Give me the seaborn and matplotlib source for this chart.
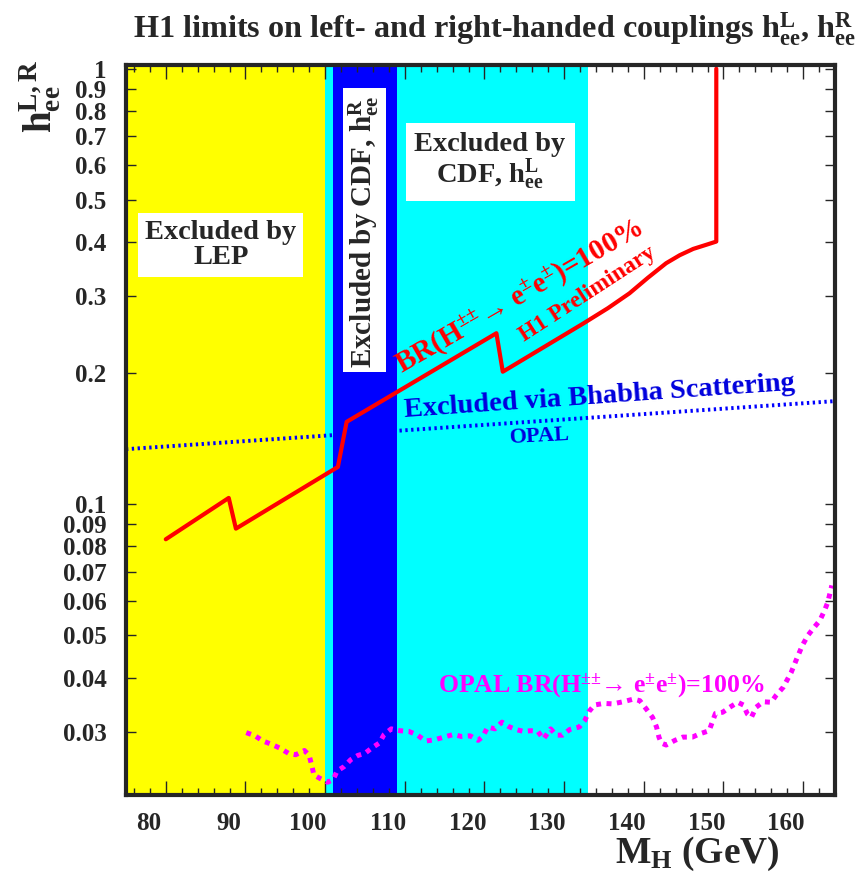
import matplotlib
matplotlib.use("Agg")
import matplotlib.pyplot as plt
import matplotlib.ticker as mticker
import matplotlib.transforms as mtransforms
from matplotlib.patches import Rectangle
import pandas as pd
import seaborn as sns

# excluded mass bands (GeV)
band_lo = [100.0, 101.0, 75.0]
band_hi = [133.0, 109.0, 100.0]
band_colors = ["#00ffff", "#0000ff", "#ffff00"]

# H1 limit, BR(H++ -> ee) = 100%
h1_mass = [80.0, 87.9, 88.8, 101.6, 102.7, 121.5, 122.3, 132.4, 135.5, 138.2, 140.5,
           142.8, 144.5, 146.2, 147.8, 149.1, 149.1]
h1_coupling = [0.0831, 0.1034, 0.0879, 0.1218, 0.1546, 0.247, 0.2015, 0.260, 0.282, 0.305, 0.331,
               0.3576, 0.373, 0.3857, 0.394, 0.401, 1.0]

# OPAL Bhabha scattering limit
bhabha_mass = [75.0, 164.0]
bhabha_coupling = [0.1338, 0.1725]

# OPAL limit, BR(H++ -> ee) = 100%
opal_mass = [90.1, 91.2, 92.2, 93.3, 94.4, 95.4, 96.3, 97.4, 98.0, 98.3, 98.6, 99.3, 100.3,
             101.0, 101.5, 102.4, 103.2, 104.1, 105.0, 105.9, 106.8, 107.4, 108.3, 109.4,
             110.5, 111.6, 112.6, 113.8, 114.9, 116.1, 117.1, 118.2, 119.2, 119.8, 120.4,
             121.3, 122.2, 123.0, 123.9, 124.9, 125.8, 126.7, 127.4, 128.3, 129.0, 129.8,
             130.7, 131.9, 132.6, 133.1, 133.8, 135.0, 136.1, 137.4, 138.7, 139.5, 140.3,
             141.1, 141.6, 141.9, 142.2, 142.8, 143.9, 144.9, 146.1, 147.0, 148.2, 148.7,
             149.0, 149.9, 150.8, 151.8, 152.5, 153.0, 153.5, 154.1, 155.0, 156.0, 156.6,
             157.5, 158.5, 159.2, 159.9, 160.6, 161.4, 162.1, 162.7, 163.1, 163.6]
opal_coupling = [0.0299, 0.0294, 0.0286, 0.0281, 0.0275, 0.0268, 0.0266, 0.0272, 0.0265, 0.0252,
                 0.0239, 0.0235, 0.0230, 0.0233, 0.0244, 0.0250, 0.0259, 0.0265, 0.0268, 0.0276,
                 0.0283, 0.0296, 0.0305, 0.0302, 0.0301, 0.0295, 0.0286, 0.0288, 0.0292, 0.0296,
                 0.0293, 0.0294, 0.0287, 0.0293, 0.0308, 0.0305, 0.0316, 0.0309, 0.0304, 0.0301,
                 0.0302, 0.0301, 0.0289, 0.0305, 0.0295, 0.0295, 0.0304, 0.0308, 0.0319, 0.0334,
                 0.0346, 0.0349, 0.0348, 0.0352, 0.0357, 0.0354, 0.0339, 0.0324, 0.0308, 0.0292,
                 0.0283, 0.0280, 0.0287, 0.0292, 0.0292, 0.0297, 0.0302, 0.0320, 0.0331, 0.0333,
                 0.0342, 0.0351, 0.0346, 0.0330, 0.0324, 0.0342, 0.0352, 0.0351, 0.0364, 0.0380,
                 0.0411, 0.0442, 0.0474, 0.0500, 0.0522, 0.0541, 0.0571, 0.0596, 0.0651]

y_ticks = [0.03, 0.04, 0.05, 0.06, 0.07, 0.08, 0.09, 0.1, 0.2, 0.3, 0.4, 0.5, 0.6, 0.7, 0.8, 0.9, 1.0]
y_tick_labels = ["0.03", "0.04", "0.05", "0.06", "0.07", "0.08", "0.09", "0.1",
                 "0.2", "0.3", "0.4", "0.5", "0.6", "0.7", "0.8", "0.9", "1"]
x_ticks = [80, 90, 100, 110, 120, 130, 140, 150, 160]

sns.set_theme(style="ticks")
plt.rcParams["font.family"] = ["Liberation Serif", "DejaVu Serif"]
plt.rcParams["font.weight"] = "bold"
plt.rcParams["mathtext.fontset"] = "custom"
plt.rcParams["mathtext.rm"] = "Liberation Serif:bold"
plt.rcParams["mathtext.it"] = "Liberation Serif:bold"
plt.rcParams["mathtext.bf"] = "Liberation Serif:bold"

fig = plt.figure(figsize=(8.61, 8.72), dpi=100)
ax = fig.add_axes([0.1463, 0.0883, 0.8235, 0.8372])

for lo, hi, c in zip(band_lo, band_hi, band_colors):
    ax.axvspan(lo, hi, color=c, lw=0, zorder=0)

# white label boxes
for (x0, y0, w, h) in [(0.017, 0.710, 0.233, 0.087), (0.306, 0.579, 0.061, 0.389),
                       (0.395, 0.814, 0.238, 0.107)]:
    ax.add_patch(Rectangle((x0, y0), w, h, transform=ax.transAxes, facecolor="white",
                           edgecolor="none", zorder=1))

h1 = pd.DataFrame({"mass": h1_mass, "coupling": h1_coupling})
bhabha = pd.DataFrame({"mass": bhabha_mass, "coupling": bhabha_coupling})
opal = pd.DataFrame({"mass": opal_mass, "coupling": opal_coupling})

sns.lineplot(data=bhabha, x="mass", y="coupling", ax=ax, color="#0000ff", lw=2.8,
             linestyle=(0, (0.6, 0.9)), estimator=None, sort=False, zorder=2)
sns.lineplot(data=opal, x="mass", y="coupling", ax=ax, color="#ff00ff", lw=3.6,
             linestyle=(0, (1.0, 1.1)), estimator=None, sort=False, zorder=3)
sns.lineplot(data=h1, x="mass", y="coupling", ax=ax, color="#ff0000", lw=3.0,
             estimator=None, sort=False, zorder=4)

ax.set_yscale("log")
ax.set_xlim(75, 164)
ax.set_ylim(0.0215, 1.02)
ax.yaxis.set_major_locator(mticker.FixedLocator(y_ticks))
ax.yaxis.set_major_formatter(mticker.FixedFormatter(y_tick_labels))
ax.yaxis.set_minor_locator(mticker.NullLocator())
ax.xaxis.set_major_locator(mticker.FixedLocator(x_ticks))
ax.xaxis.set_minor_locator(mticker.MultipleLocator(2))
ax.tick_params(which="both", direction="in", top=True, right=True, labelsize=18, width=1.0)
ax.tick_params(which="major", length=10)
ax.tick_params(which="minor", length=5)
ax.tick_params(axis="y", which="major", length=7, pad=14)
ax.tick_params(axis="x", which="major", pad=12)
shift = mtransforms.ScaledTranslation(-0.17, 0, fig.dpi_scale_trans)
for lab in ax.get_xticklabels():
    lab.set_transform(lab.get_transform() + shift)
for lab in ax.get_xticklabels() + ax.get_yticklabels():
    lab.set_fontweight("bold")
for sp in ax.spines.values():
    sp.set_linewidth(3)
    sp.set_zorder(10)
ax.set_xlabel("")
ax.set_ylabel("")

# box labels
ax.text(0.134, 0.753, "Excluded by\nLEP", transform=ax.transAxes, ha="center", va="center",
        fontsize=20.5, fontweight="bold", linespacing=1.0, zorder=5)
ax.text(0.336, 0.772, r"Excluded by CDF, h$_{ee}^{R}$", transform=ax.transAxes, rotation=90,
        ha="center", va="center", fontsize=21, fontweight="bold", zorder=5)
ax.text(0.513, 0.867, "Excluded by\n" + r"CDF, h$_{ee}^{L}$", transform=ax.transAxes,
        ha="center", va="center", fontsize=20.5, fontweight="bold", linespacing=1.0, zorder=5)

# curve labels
ax.text(0.555, 0.682, r"BR(H$^{{\pm}{\pm}}$→ e$^{\pm}$e$^{\pm}$)=100%", transform=ax.transAxes,
        rotation=30, ha="center", va="center", fontsize=21, color="#ff0000", zorder=6)
ax.text(0.651, 0.686, "H1 Preliminary", transform=ax.transAxes, rotation=33,
        ha="center", va="center", fontsize=17, color="#ff0000", zorder=6)
ax.text(0.668, 0.546, "Excluded via Bhabha Scattering", transform=ax.transAxes, rotation=4,
        ha="center", va="center", fontsize=20.5, color="#0000dd", zorder=6)
ax.text(0.584, 0.491, "OPAL", transform=ax.transAxes, rotation=3,
        ha="center", va="center", fontsize=16, color="#0000dd", zorder=6)
ax.text(0.671, 0.149, r"OPAL BR(H$^{{\pm}{\pm}}$→ e$^{\pm}$e$^{\pm}$)=100%", transform=ax.transAxes,
        ha="center", va="center", fontsize=18.5, color="#ff00ff", zorder=6)

fig.text(0.574, 0.966, r"H1 limits on left- and right-handed couplings h$_{ee}^{L}$, h$_{ee}^{R}$",
         ha="center", va="center", fontsize=23.2, fontweight="bold")
fig.text(0.046, 0.89, r"h$_{ee}^{L,R}$", rotation=90, ha="center", va="center",
         fontsize=28, fontweight="bold")
fig.text(0.81, 0.021, r"M$_{H}$ (GeV)", ha="center", va="center", fontsize=27, fontweight="bold")

fig.savefig("out.png", dpi=100)
